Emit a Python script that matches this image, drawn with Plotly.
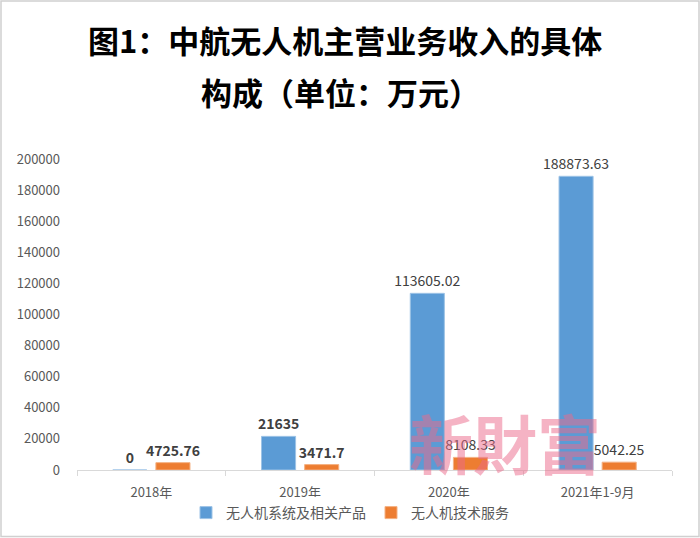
import plotly.graph_objects as go

categories = ["2018年", "2019年", "2020年", "2021年1-9月"]
series_names = ["无人机系统及相关产品", "无人机技术服务"]
systems = [0, 21635, 113605.02, 188873.63]
services = [4725.76, 3471.7, 8108.33, 5042.25]
systems_text = ["0", "21635", "113605.02", "188873.63"]
services_text = ["4725.76", "3471.7", "8108.33", "5042.25"]
bold_flags = [True, True, False, False]
title_line1 = "图1：中航无人机主营业务收入的具体"
title_line2 = "构成（单位：万元）"
watermark = "新財富"
y_ticks = list(range(0, 200001, 20000))

W, H = 700, 538
ML, MR, MT, MB = 77, 28, 159, 68

def fmt(texts):
    return [f"<b>{t}</b>" if b else t for t, b in zip(texts, bold_flags)]

font = "Noto Sans CJK SC"
fig = go.Figure()
fig.add_trace(go.Bar(
    x=categories, y=systems, name=series_names[0],
    marker=dict(color="#5B9BD5", line=dict(color="#9DC3E6", width=1)),
    text=fmt(systems_text), textposition="outside", cliponaxis=False, constraintext="none",
    textfont=dict(family=font, size=14, color="#404040"),
))
fig.add_trace(go.Bar(
    x=categories, y=services, name=series_names[1],
    marker=dict(color="#ED7D31", line=dict(color="#F4B183", width=1)),
    text=fmt(services_text), textposition="outside", cliponaxis=False, constraintext="none",
    textfont=dict(family=font, size=14, color="#404040"),
))

pw, ph = W - ML - MR, H - MT - MB
fig.update_layout(
    width=W, height=H,
    margin=dict(l=ML, r=MR, t=MT, b=MB, autoexpand=False),
    paper_bgcolor="white", plot_bgcolor="white",
    barmode="group", bargap=0.42, bargroupgap=0.21,
    font=dict(family=font, size=13, color="#595959"),
    showlegend=True,
    legend=dict(orientation="h", x=(350 - ML) / pw, xanchor="center", y=-(513 - 470) / ph,
                yanchor="middle", font=dict(size=14, color="#595959"), itemwidth=30,
                tracegroupgap=0, traceorder="normal"),
)
fig.update_xaxes(
    type="category", showline=True, linecolor="#D9D9D9", linewidth=1,
    ticks="outside", tickson="boundaries", ticklen=5, tickcolor="#D9D9D9",
    showgrid=False, tickfont=dict(size=13, color="#595959"), ticklabelstandoff=10,
    automargin=False,
)
fig.update_yaxes(
    range=[0, 200000], tickvals=y_ticks, ticktext=[str(v) for v in y_ticks],
    showgrid=False, zeroline=False, showline=False, ticks="",
    tickfont=dict(size=13, color="#595959"), ticklabelstandoff=16, automargin=False,
)

# Title lines
fig.add_annotation(text=f"<b>{title_line1}</b>", xref="paper", yref="paper",
                   x=(345 - ML) / pw, y=1 + (MT - 39) / ph,
                   xanchor="center", yanchor="middle", showarrow=False,
                   font=dict(family=font, size=31, color="#000000"))
fig.add_annotation(text=f"<b>{title_line2}</b>", xref="paper", yref="paper",
                   x=(340 - ML) / pw, y=1 + (MT - 92) / ph,
                   xanchor="center", yanchor="middle", showarrow=False,
                   font=dict(family=font, size=31, color="#000000"))
# Watermark
fig.add_annotation(text=f"<b>{watermark}</b>", xref="paper", yref="paper",
                   x=(505 - ML) / pw, y=(H - MB - 441) / ph,
                   xanchor="center", yanchor="middle", showarrow=False, opacity=0.5,
                   font=dict(family="Noto Sans CJK TC", size=64, color="#EC6A8A"))
# Outer border
fig.add_shape(type="rect", xref="paper", yref="paper",
              x0=(-ML + 1) / pw, x1=1 + (MR - 1) / pw,
              y0=(-MB + 1.5) / ph, y1=1 + (MT - 1) / ph,
              line=dict(color="#D0D0D0", width=1.5), fillcolor="rgba(0,0,0,0)", layer="below")

fig.write_html("out.html", config={"displayModeBar": False},
               post_script="document.body.style.margin='0';document.body.style.overflow='hidden';")
